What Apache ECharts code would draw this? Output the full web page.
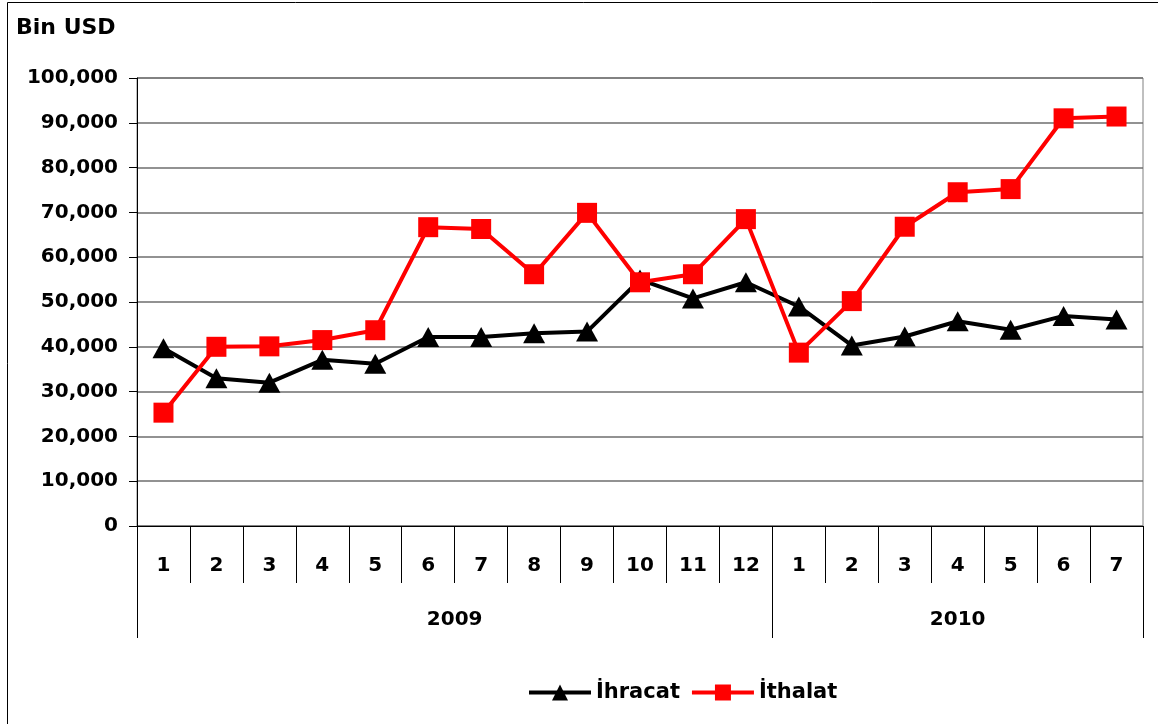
<!DOCTYPE html>
<html>
<head>
<meta charset="utf-8">
<script src="https://cdn.jsdelivr.net/npm/echarts@6/dist/echarts.min.js"></script>
<style>
  html, body { margin: 0; padding: 0; background: #fff; }
  #chart { width: 1158px; height: 724px; }
</style>
</head>
<body>
<div id="chart"></div>
<script>
// months of 2009 (1-12) and 2010 (1-7)
var months = ['1', '2', '3', '4', '5', '6', '7', '8', '9', '10', '11', '12', '1', '2', '3', '4', '5', '6', '7']
var years = ['2009', '2010']
var yearCenters = [6, 15.5]
var yearBounds = [0, 12, 19]
var yTicks = [0, 10000, 20000, 30000, 40000, 50000, 60000, 70000, 80000, 90000, 100000]

var ihracat = [39700, 33000, 32000, 37100, 36200, 42200, 42200, 43000, 43400, 55000, 50800, 54400, 49000, 40300, 42300, 45700, 43800, 46900, 46100]
var ithalat = [25300, 40000, 40100, 41500, 43700, 66700, 66300, 56200, 69900, 54400, 56200, 68500, 38700, 50200, 66800, 74500, 75200, 91000, 91400]

var font = 'DejaVu Sans'
var txt = { color: '#000', fontFamily: font, fontWeight: 'bold', fontSize: 20 }

var chart = echarts.init(document.getElementById('chart'))

chart.setOption({
  animation: false,
  backgroundColor: '#fff',
  title: {
    text: 'Bin USD',
    left: 11,
    top: 12,
    textStyle: Object.assign({}, txt, { fontSize: 22 })
  },
  graphic: [{
    type: 'rect',
    shape: { x: 7.5, y: 2.5, width: 1300, height: 900 },
    style: { fill: 'none', stroke: '#000', lineWidth: 1 },
    silent: true
  }],
  legend: {
    left: 522,
    top: 677,
    itemWidth: 62,
    itemHeight: 20,
    itemGap: 10,
    lineStyle: { width: 4 },
    textStyle: Object.assign({}, txt, { fontSize: 21 }),
    data: ['İhracat', 'İthalat']
  },
  grid: {
    left: 137,
    right: 15,
    top: 78,
    bottom: 198,
    show: true,
    borderColor: '#808080',
    borderWidth: 1
  },
  xAxis: [{
    type: 'category',
    data: months,
    boundaryGap: true,
    axisLine: { lineStyle: { color: '#000', width: 1 } },
    axisTick: { show: true, alignWithLabel: false, interval: 0, length: 57, lineStyle: { color: '#000' } },
    axisLabel: Object.assign({ interval: 0, margin: 30 }, txt)
  }, {
    type: 'value',
    min: 0,
    max: 19,
    position: 'bottom',
    offset: 0,
    axisLine: { show: false },
    splitLine: { show: false },
    axisTick: {
      show: true,
      customValues: yearBounds,
      length: 112,
      lineStyle: { color: '#000' }
    },
    axisLabel: Object.assign({
      customValues: yearCenters,
      margin: 84,
      formatter: function (v) {
        return years[yearCenters.indexOf(v)] || ''
      }
    }, txt)
  }],
  yAxis: {
    type: 'value',
    min: yTicks[0],
    max: yTicks[yTicks.length - 1],
    interval: 10000,
    axisLine: { show: true, lineStyle: { color: '#000', width: 1 } },
    axisTick: { show: true, length: 8, lineStyle: { color: '#000' } },
    splitLine: { lineStyle: { color: '#6e6e6e', width: 1.5 } },
    axisLabel: Object.assign({
      margin: 19,
      formatter: function (v) { return v.toLocaleString('en-US') }
    }, txt)
  },
  series: [{
    name: 'İhracat',
    type: 'line',
    data: ihracat,
    symbol: 'triangle',
    symbolSize: [22, 20],
    showAllSymbol: true,
    lineStyle: { color: '#000', width: 4 },
    itemStyle: { color: '#000' },
    z: 2
  }, {
    name: 'İthalat',
    type: 'line',
    data: ithalat,
    symbol: 'rect',
    symbolSize: 20,
    showAllSymbol: true,
    lineStyle: { color: '#ff0000', width: 4 },
    itemStyle: { color: '#ff0000' },
    z: 3
  }]
})
</script>
</body>
</html>
